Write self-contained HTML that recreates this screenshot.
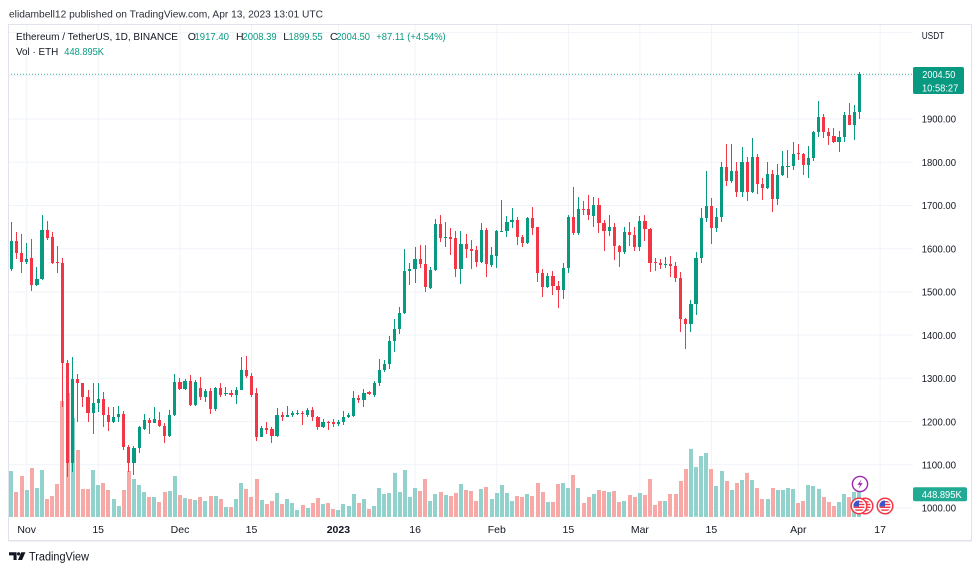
<!DOCTYPE html>
<html><head><meta charset="utf-8"><style>
html,body{margin:0;padding:0;background:#fff;}
body{width:980px;height:571px;position:relative;overflow:hidden;font-family:"Liberation Sans",sans-serif;}
svg{position:absolute;left:0;top:0;}
#k{position:absolute;left:8.815px;top:0;height:571px;display:flex;}
#k i{display:block;flex:none;width:5.11px;height:571px;position:relative;background-repeat:no-repeat;background-position:50% calc(var(--v)*1px);background-size:4.1px calc((517 - var(--v))*1px);}
#k i.g{background-image:linear-gradient(#92d2cc,#92d2cc);}
#k i.r{background-image:linear-gradient(#f7a9a7,#f7a9a7);}
#k i::before{content:"";position:absolute;left:calc(50% - .5px);width:1px;top:calc(var(--h)*1px);height:calc((var(--l) - var(--h))*1px);}
#k i::after{content:"";position:absolute;left:calc(50% - 1.6px);width:3.2px;top:calc(var(--t)*1px);height:max(1px,calc((var(--b) - var(--t))*1px));}
#k i.g::before,#k i.g::after{background:#089981;}
#k i.r::before,#k i.r::after{background:#f23645;}
</style></head><body>
<svg width="980" height="571">
<g stroke="#f0f3fa" stroke-width="1">
<line x1="8" x2="913" y1="508" y2="508"/><line x1="8" x2="913" y1="464.8" y2="464.8"/><line x1="8" x2="913" y1="421.6" y2="421.6"/><line x1="8" x2="913" y1="378.3" y2="378.3"/><line x1="8" x2="913" y1="335.1" y2="335.1"/><line x1="8" x2="913" y1="291.9" y2="291.9"/><line x1="8" x2="913" y1="248.7" y2="248.7"/><line x1="8" x2="913" y1="205.5" y2="205.5"/><line x1="8" x2="913" y1="162.2" y2="162.2"/><line x1="8" x2="913" y1="119" y2="119"/><line x1="8" x2="913" y1="75.8" y2="75.8"/><line x1="8" x2="913" y1="32.6" y2="32.6"/>
<line x1="26.7" x2="26.7" y1="24" y2="517"/><line x1="98.2" x2="98.2" y1="24" y2="517"/><line x1="180" x2="180" y1="24" y2="517"/><line x1="251.5" x2="251.5" y1="24" y2="517"/><line x1="338.4" x2="338.4" y1="24" y2="517"/><line x1="415.1" x2="415.1" y1="24" y2="517"/><line x1="496.8" x2="496.8" y1="24" y2="517"/><line x1="568.4" x2="568.4" y1="24" y2="517"/><line x1="639.9" x2="639.9" y1="24" y2="517"/><line x1="711.4" x2="711.4" y1="24" y2="517"/><line x1="798.3" x2="798.3" y1="24" y2="517"/><line x1="880.1" x2="880.1" y1="24" y2="517"/>
</g>
<line x1="8" x2="913" y1="74.3" y2="74.3" stroke="#089981" stroke-width="1" stroke-dasharray="1,2" opacity="0.8"/>
</svg>
<div id="k">
<i class="g" style="--h:221.7;--t:240.7;--b:269;--l:271;--v:471"></i>
<i class="r" style="--h:232.3;--t:240.7;--b:253.3;--l:259;--v:492"></i>
<i class="r" style="--h:234;--t:252.7;--b:261.7;--l:272.7;--v:476"></i>
<i class="g" style="--h:243.3;--t:258.7;--b:262;--l:264.3;--v:490"></i>
<i class="r" style="--h:239.3;--t:258.3;--b:285;--l:290.7;--v:468"></i>
<i class="g" style="--h:266.7;--t:279;--b:285;--l:286;--v:488"></i>
<i class="g" style="--h:215;--t:230;--b:279.3;--l:280;--v:470"></i>
<i class="r" style="--h:220.7;--t:230;--b:237.7;--l:240;--v:499"></i>
<i class="r" style="--h:232.3;--t:237.3;--b:263.3;--l:264;--v:496"></i>
<i class="r" style="--h:245.7;--t:262;--b:263.3;--l:272.7;--v:484"></i>
<i class="r" style="--h:258.3;--t:262.7;--b:363.3;--l:406.7;--v:401"></i>
<i class="r" style="--h:360;--t:363.3;--b:463.3;--l:476.7;--v:393"></i>
<i class="g" style="--h:356.7;--t:379.3;--b:463.3;--l:471.7;--v:418"></i>
<i class="r" style="--h:374.3;--t:379.3;--b:383.3;--l:421.7;--v:450"></i>
<i class="r" style="--h:382.7;--t:383.3;--b:397.3;--l:406.7;--v:489"></i>
<i class="r" style="--h:390;--t:397.3;--b:412.7;--l:421.7;--v:489"></i>
<i class="g" style="--h:382.7;--t:403.3;--b:412.7;--l:434.3;--v:470"></i>
<i class="g" style="--h:382.7;--t:399.3;--b:403.3;--l:411.7;--v:485"></i>
<i class="r" style="--h:392.3;--t:399.3;--b:415;--l:427.3;--v:483"></i>
<i class="r" style="--h:406.7;--t:415;--b:421.7;--l:430.7;--v:490"></i>
<i class="g" style="--h:406.7;--t:417.3;--b:421.7;--l:423.3;--v:499"></i>
<i class="g" style="--h:406;--t:414;--b:417.3;--l:422.3;--v:506"></i>
<i class="r" style="--h:410.7;--t:414;--b:447.3;--l:450;--v:490"></i>
<i class="r" style="--h:445;--t:447.3;--b:462.7;--l:471.7;--v:471"></i>
<i class="g" style="--h:446;--t:448.3;--b:462.7;--l:475;--v:479"></i>
<i class="g" style="--h:426;--t:427.3;--b:448.3;--l:452.7;--v:485"></i>
<i class="g" style="--h:414;--t:420;--b:429.3;--l:430;--v:492"></i>
<i class="r" style="--h:418.3;--t:420;--b:422.7;--l:434;--v:497"></i>
<i class="g" style="--h:406.7;--t:419.3;--b:422.7;--l:423.3;--v:497"></i>
<i class="r" style="--h:411.7;--t:420;--b:425.7;--l:427.3;--v:502"></i>
<i class="r" style="--h:422.7;--t:425.7;--b:436;--l:442.7;--v:492"></i>
<i class="g" style="--h:410;--t:415;--b:436;--l:436.7;--v:491"></i>
<i class="g" style="--h:374;--t:381.7;--b:415;--l:415.5;--v:476"></i>
<i class="r" style="--h:378.3;--t:381.7;--b:389;--l:390;--v:495"></i>
<i class="g" style="--h:379.3;--t:380.7;--b:389;--l:390;--v:498"></i>
<i class="r" style="--h:375;--t:380.7;--b:405;--l:406;--v:499"></i>
<i class="g" style="--h:380;--t:381.7;--b:405;--l:405.7;--v:500"></i>
<i class="r" style="--h:376.7;--t:387.7;--b:396.7;--l:400;--v:497"></i>
<i class="g" style="--h:389.3;--t:390.7;--b:396.7;--l:401.7;--v:501"></i>
<i class="r" style="--h:388.3;--t:390.7;--b:409;--l:414;--v:496"></i>
<i class="g" style="--h:386.7;--t:387.7;--b:409;--l:410.7;--v:496"></i>
<i class="r" style="--h:382.7;--t:387.7;--b:395;--l:396.7;--v:499"></i>
<i class="g" style="--h:386.7;--t:393.3;--b:394.3;--l:396;--v:507"></i>
<i class="r" style="--h:390;--t:393.3;--b:395;--l:396.7;--v:507"></i>
<i class="g" style="--h:386.7;--t:390;--b:395;--l:404;--v:499"></i>
<i class="g" style="--h:357.3;--t:370;--b:390;--l:390.5;--v:483"></i>
<i class="r" style="--h:356;--t:370;--b:376;--l:378.3;--v:489"></i>
<i class="r" style="--h:373.3;--t:376;--b:395;--l:396.7;--v:497"></i>
<i class="r" style="--h:387.7;--t:393.3;--b:436.7;--l:440.7;--v:479"></i>
<i class="g" style="--h:426;--t:428.3;--b:436.7;--l:437.3;--v:500"></i>
<i class="r" style="--h:421.7;--t:428.3;--b:430;--l:434;--v:504"></i>
<i class="r" style="--h:427.3;--t:429.3;--b:436;--l:443.3;--v:501"></i>
<i class="g" style="--h:408.3;--t:415;--b:436;--l:437;--v:493"></i>
<i class="r" style="--h:411.7;--t:415;--b:416.7;--l:420.7;--v:504"></i>
<i class="g" style="--h:406;--t:415;--b:416.7;--l:417.3;--v:499"></i>
<i class="g" style="--h:410.7;--t:412.7;--b:415;--l:417.3;--v:503"></i>
<i class="g" style="--h:410;--t:412.7;--b:413.3;--l:415;--v:510"></i>
<i class="r" style="--h:410.7;--t:413;--b:414.3;--l:425;--v:505"></i>
<i class="g" style="--h:408.3;--t:410;--b:415;--l:416.7;--v:508"></i>
<i class="r" style="--h:407.3;--t:410;--b:417.3;--l:420.7;--v:503"></i>
<i class="r" style="--h:415.7;--t:416.7;--b:426.7;--l:430;--v:498"></i>
<i class="g" style="--h:419.3;--t:421.7;--b:426.7;--l:428.3;--v:504"></i>
<i class="r" style="--h:420.7;--t:421.7;--b:422.7;--l:430;--v:503"></i>
<i class="r" style="--h:419.3;--t:422.3;--b:424;--l:426.7;--v:509"></i>
<i class="g" style="--h:420;--t:422;--b:424;--l:426;--v:510"></i>
<i class="g" style="--h:410.7;--t:416.7;--b:421.7;--l:425;--v:504"></i>
<i class="g" style="--h:413.3;--t:415;--b:417.3;--l:418.3;--v:506"></i>
<i class="g" style="--h:390.7;--t:398.3;--b:415.7;--l:416.7;--v:494"></i>
<i class="r" style="--h:395;--t:397.7;--b:400;--l:403.3;--v:503"></i>
<i class="g" style="--h:389.3;--t:392.7;--b:400;--l:406.7;--v:499"></i>
<i class="r" style="--h:391;--t:392.3;--b:394.3;--l:395;--v:509"></i>
<i class="g" style="--h:380.7;--t:383.3;--b:395;--l:396.7;--v:506"></i>
<i class="g" style="--h:359.3;--t:370;--b:383.3;--l:386;--v:488"></i>
<i class="g" style="--h:360;--t:364;--b:370;--l:371.7;--v:494"></i>
<i class="g" style="--h:336;--t:340.7;--b:364;--l:369.3;--v:493"></i>
<i class="g" style="--h:319.3;--t:329.3;--b:340.7;--l:351.7;--v:473"></i>
<i class="g" style="--h:307.3;--t:313.3;--b:329.3;--l:334;--v:492"></i>
<i class="g" style="--h:249;--t:271;--b:313.3;--l:314.3;--v:470"></i>
<i class="g" style="--h:263.3;--t:269.3;--b:271;--l:285;--v:497"></i>
<i class="g" style="--h:247.3;--t:259.3;--b:269.3;--l:282.7;--v:488"></i>
<i class="r" style="--h:245;--t:259.3;--b:264;--l:268.3;--v:491"></i>
<i class="r" style="--h:245;--t:264;--b:287.3;--l:291.7;--v:479"></i>
<i class="g" style="--h:266.7;--t:270;--b:287.7;--l:289.3;--v:501"></i>
<i class="g" style="--h:219.3;--t:224;--b:270;--l:271;--v:494"></i>
<i class="r" style="--h:215;--t:224;--b:237.7;--l:241.7;--v:492"></i>
<i class="g" style="--h:221.7;--t:236.7;--b:237.7;--l:247.3;--v:495"></i>
<i class="r" style="--h:228.3;--t:237.3;--b:238.7;--l:255;--v:496"></i>
<i class="r" style="--h:231;--t:238.3;--b:268.7;--l:276.7;--v:493"></i>
<i class="g" style="--h:231;--t:244;--b:268.7;--l:284;--v:484"></i>
<i class="r" style="--h:234.3;--t:244;--b:249.3;--l:258.3;--v:490"></i>
<i class="r" style="--h:240;--t:249;--b:250.7;--l:269.3;--v:491"></i>
<i class="r" style="--h:246;--t:250;--b:261.7;--l:266.7;--v:501"></i>
<i class="g" style="--h:222.7;--t:230;--b:261.7;--l:263.3;--v:489"></i>
<i class="r" style="--h:228.3;--t:230;--b:264.3;--l:276.7;--v:487"></i>
<i class="g" style="--h:247.3;--t:255;--b:265;--l:266.7;--v:499"></i>
<i class="g" style="--h:230;--t:231;--b:256;--l:268.3;--v:493"></i>
<i class="g" style="--h:200;--t:230.7;--b:231.7;--l:232;--v:485"></i>
<i class="g" style="--h:216;--t:221.7;--b:231;--l:237.3;--v:493"></i>
<i class="g" style="--h:208.3;--t:220;--b:221.7;--l:228.3;--v:501"></i>
<i class="r" style="--h:216.7;--t:220;--b:236.7;--l:245;--v:496"></i>
<i class="r" style="--h:235;--t:236.7;--b:243.3;--l:246.7;--v:497"></i>
<i class="g" style="--h:216.7;--t:218.3;--b:243.3;--l:244;--v:494"></i>
<i class="r" style="--h:206.7;--t:218.3;--b:227.7;--l:235;--v:496"></i>
<i class="r" style="--h:226.7;--t:227.3;--b:273.3;--l:281.7;--v:483"></i>
<i class="r" style="--h:269;--t:273.3;--b:286.7;--l:296.7;--v:492"></i>
<i class="g" style="--h:273.3;--t:276;--b:286.7;--l:288.3;--v:502"></i>
<i class="r" style="--h:271;--t:276;--b:286;--l:295;--v:502"></i>
<i class="r" style="--h:281;--t:286;--b:290;--l:308.3;--v:484"></i>
<i class="g" style="--h:262.7;--t:268.3;--b:290;--l:299.3;--v:483"></i>
<i class="g" style="--h:215;--t:217.3;--b:268.3;--l:273.3;--v:488"></i>
<i class="r" style="--h:187.3;--t:217.3;--b:232.7;--l:235;--v:475"></i>
<i class="g" style="--h:196.7;--t:209.3;--b:232.7;--l:235;--v:488"></i>
<i class="r" style="--h:200.7;--t:208.7;--b:210;--l:215;--v:503"></i>
<i class="r" style="--h:195;--t:209.3;--b:215;--l:220;--v:497"></i>
<i class="g" style="--h:196.7;--t:205;--b:215.7;--l:226.7;--v:494"></i>
<i class="r" style="--h:198.3;--t:205;--b:223.3;--l:232.7;--v:490"></i>
<i class="r" style="--h:220;--t:223.3;--b:230.7;--l:250.7;--v:490.7"></i>
<i class="g" style="--h:215;--t:227.3;--b:230.7;--l:236;--v:491.7"></i>
<i class="r" style="--h:222.7;--t:227.3;--b:245.7;--l:260;--v:491"></i>
<i class="r" style="--h:245;--t:245.7;--b:252.3;--l:267.3;--v:502"></i>
<i class="g" style="--h:227.3;--t:231.7;--b:252.3;--l:254;--v:501"></i>
<i class="r" style="--h:221.7;--t:231.7;--b:235;--l:245.7;--v:495"></i>
<i class="r" style="--h:226.7;--t:235;--b:247.3;--l:250.7;--v:496.7"></i>
<i class="g" style="--h:216;--t:221;--b:247.3;--l:250.7;--v:493"></i>
<i class="r" style="--h:215;--t:221;--b:229;--l:240.7;--v:495"></i>
<i class="r" style="--h:228.3;--t:229;--b:262.7;--l:272.3;--v:479.3"></i>
<i class="r" style="--h:258.3;--t:262.3;--b:263.3;--l:270.7;--v:505"></i>
<i class="r" style="--h:259;--t:263;--b:264.7;--l:269.3;--v:501"></i>
<i class="g" style="--h:256.7;--t:264;--b:264.7;--l:268.3;--v:501"></i>
<i class="r" style="--h:256;--t:264;--b:265.7;--l:276.7;--v:494.3"></i>
<i class="r" style="--h:261.7;--t:265.7;--b:278.3;--l:282.3;--v:493.7"></i>
<i class="r" style="--h:271.7;--t:278.3;--b:319.3;--l:331.7;--v:481"></i>
<i class="r" style="--h:318.3;--t:319.3;--b:324.3;--l:349.3;--v:469.3"></i>
<i class="g" style="--h:300;--t:304.3;--b:324.3;--l:331.7;--v:449"></i>
<i class="g" style="--h:251.7;--t:258.3;--b:304.3;--l:315;--v:467.3"></i>
<i class="g" style="--h:208.3;--t:217.7;--b:258.3;--l:263.3;--v:455.7"></i>
<i class="g" style="--h:171;--t:206;--b:217.7;--l:221.7;--v:453"></i>
<i class="r" style="--h:198.3;--t:206;--b:228.3;--l:244;--v:468.7"></i>
<i class="g" style="--h:208.3;--t:217.3;--b:228.3;--l:231.7;--v:485.7"></i>
<i class="g" style="--h:161.7;--t:167.3;--b:217.3;--l:221.7;--v:471.3"></i>
<i class="r" style="--h:144.3;--t:167.3;--b:181;--l:186;--v:480.7"></i>
<i class="g" style="--h:144.3;--t:171;--b:181;--l:182.7;--v:490"></i>
<i class="r" style="--h:161.7;--t:171;--b:191.7;--l:196.7;--v:483"></i>
<i class="g" style="--h:147.3;--t:162.3;--b:191.7;--l:197.3;--v:479.7"></i>
<i class="r" style="--h:156.7;--t:162.3;--b:191.7;--l:200.7;--v:473"></i>
<i class="g" style="--h:137.7;--t:157.3;--b:191.7;--l:192.7;--v:480"></i>
<i class="r" style="--h:154.3;--t:157.3;--b:184.3;--l:194;--v:488.3"></i>
<i class="r" style="--h:178.3;--t:184.3;--b:187.7;--l:200;--v:499"></i>
<i class="g" style="--h:162.3;--t:174.3;--b:187.7;--l:189.3;--v:499"></i>
<i class="r" style="--h:170;--t:174.3;--b:199.3;--l:211.7;--v:488.3"></i>
<i class="g" style="--h:164.3;--t:175;--b:199.3;--l:205;--v:490"></i>
<i class="g" style="--h:150.7;--t:166;--b:175;--l:176;--v:490"></i>
<i class="g" style="--h:150;--t:165.7;--b:166.7;--l:178.3;--v:487.7"></i>
<i class="g" style="--h:141.7;--t:154;--b:166;--l:170;--v:489"></i>
<i class="r" style="--h:144;--t:152.7;--b:154;--l:160;--v:502.7"></i>
<i class="r" style="--h:152.7;--t:154;--b:165.3;--l:175;--v:500.7"></i>
<i class="g" style="--h:145.7;--t:158.3;--b:165.3;--l:178.3;--v:485"></i>
<i class="g" style="--h:131;--t:132.3;--b:158.3;--l:161;--v:486"></i>
<i class="g" style="--h:101;--t:116.7;--b:132.3;--l:137.3;--v:489"></i>
<i class="r" style="--h:114.3;--t:116.7;--b:131.7;--l:138.3;--v:496.7"></i>
<i class="r" style="--h:128.3;--t:131.7;--b:135.7;--l:145;--v:502"></i>
<i class="r" style="--h:128.3;--t:135.7;--b:142.3;--l:143.3;--v:506"></i>
<i class="g" style="--h:131;--t:137.3;--b:142.3;--l:151.7;--v:502"></i>
<i class="g" style="--h:111.7;--t:115;--b:137.3;--l:142.3;--v:494.3"></i>
<i class="r" style="--h:102.7;--t:115;--b:125;--l:125.5;--v:496.7"></i>
<i class="g" style="--h:105;--t:112.3;--b:125;--l:140;--v:491.7"></i>
<i class="g" style="--h:72.3;--t:74.3;--b:112.3;--l:119.3;--v:492"></i>
</div>
<svg width="980" height="571" font-family="Liberation Sans, sans-serif">
<defs>
<clipPath id="c1"><circle cx="859" cy="506" r="5.6"/></clipPath>
<clipPath id="c2"><circle cx="865" cy="506" r="5.6"/></clipPath>
<clipPath id="c3"><circle cx="885" cy="506" r="5.6"/></clipPath>
</defs>
<rect x="8.5" y="24.5" width="963" height="516" fill="none" stroke="#e0e3eb" stroke-width="1"/>
<line x1="8" x2="972" y1="541.5" y2="541.5" stroke="#f0f1f4" stroke-width="1"/>
<text x="9" y="17.3" font-size="10.5" fill="#2a2e39" textLength="314" lengthAdjust="spacingAndGlyphs">elidambell12 published on TradingView.com, Apr 13, 2023 13:01 UTC</text>
<g font-size="10.5">
<text x="16" y="40" fill="#131722" textLength="162" lengthAdjust="spacingAndGlyphs">Ethereum / TetherUS, 1D, BINANCE</text>
<text x="187.7" y="40" fill="#131722">O</text>
<text x="194.5" y="40" fill="#089981" textLength="34.5" lengthAdjust="spacingAndGlyphs">1917.40</text>
<text x="236" y="40" fill="#131722">H</text>
<text x="242.5" y="40" fill="#089981" textLength="34.2" lengthAdjust="spacingAndGlyphs">2008.39</text>
<text x="283.3" y="40" fill="#131722">L</text>
<text x="288.5" y="40" fill="#089981" textLength="34.2" lengthAdjust="spacingAndGlyphs">1899.55</text>
<text x="330" y="40" fill="#131722">C</text>
<text x="336.2" y="40" fill="#089981" textLength="33.8" lengthAdjust="spacingAndGlyphs">2004.50</text>
<text x="376.3" y="40" fill="#089981" textLength="69.4" lengthAdjust="spacingAndGlyphs">+87.11 (+4.54%)</text>
<text x="16" y="55" fill="#131722" textLength="42.3" lengthAdjust="spacingAndGlyphs">Vol · ETH</text>
<text x="64.3" y="55" fill="#089981" textLength="39.7" lengthAdjust="spacingAndGlyphs">448.895K</text>
</g>
<g font-size="10" fill="#131722">
<text x="921.7" y="38.8" textLength="22.6" lengthAdjust="spacingAndGlyphs">USDT</text>
<text x="921.7" y="122.7" textLength="34.3" lengthAdjust="spacingAndGlyphs">1900.00</text>
<text x="921.7" y="165.9" textLength="34.3" lengthAdjust="spacingAndGlyphs">1800.00</text>
<text x="921.7" y="209.2" textLength="34.3" lengthAdjust="spacingAndGlyphs">1700.00</text>
<text x="921.7" y="252.4" textLength="34.3" lengthAdjust="spacingAndGlyphs">1600.00</text>
<text x="921.7" y="295.6" textLength="34.3" lengthAdjust="spacingAndGlyphs">1500.00</text>
<text x="921.7" y="338.8" textLength="34.3" lengthAdjust="spacingAndGlyphs">1400.00</text>
<text x="921.7" y="382" textLength="34.3" lengthAdjust="spacingAndGlyphs">1300.00</text>
<text x="921.7" y="425.3" textLength="34.3" lengthAdjust="spacingAndGlyphs">1200.00</text>
<text x="921.7" y="468.5" textLength="34.3" lengthAdjust="spacingAndGlyphs">1100.00</text>
<text x="921.7" y="511.7" textLength="34.3" lengthAdjust="spacingAndGlyphs">1000.00</text>
</g>
<rect x="913" y="67" width="51" height="27" rx="2" fill="#089981"/>
<text x="922.3" y="77.8" font-size="10" fill="#fff" textLength="33" lengthAdjust="spacingAndGlyphs">2004.50</text>
<text x="922" y="91.6" font-size="10" fill="#fff" textLength="36.3" lengthAdjust="spacingAndGlyphs">10:58:27</text>
<rect x="913" y="487.3" width="54" height="14" rx="2" fill="#22ab94"/>
<text x="921.7" y="498" font-size="10" fill="#fff" textLength="40" lengthAdjust="spacingAndGlyphs">448.895K</text>
<g font-size="10.5" fill="#131722" text-anchor="middle">
<text x="26.7" y="533">Nov</text>
<text x="98.2" y="533">15</text>
<text x="180" y="533">Dec</text>
<text x="251.5" y="533">15</text>
<text x="338.4" y="533" font-weight="bold">2023</text>
<text x="415.1" y="533">16</text>
<text x="496.8" y="533">Feb</text>
<text x="568.4" y="533">15</text>
<text x="639.9" y="533">Mar</text>
<text x="711.4" y="533">15</text>
<text x="798.3" y="533">Apr</text>
<text x="880.1" y="533">17</text>
</g>
<!-- event icons -->
<circle cx="860" cy="484" r="7.6" fill="#fff" stroke="#9c27b0" stroke-width="1.4"/>
<path d="M861.6 479.3 L857.4 484.9 L860.1 484.9 L858.6 488.7 L862.7 483.1 L860 483.1 Z" fill="#9c27b0"/>
<g>
<circle cx="865" cy="506" r="7.8" fill="#fff" stroke="#f23645" stroke-width="1.5"/>
<g clip-path="url(#c2)"><rect x="859" y="500" width="12" height="12" fill="#fff"/><rect x="859" y="501" width="12" height="1.4" fill="#f23645"/><rect x="859" y="503.8" width="12" height="1.4" fill="#f23645"/><rect x="859" y="506.6" width="12" height="1.4" fill="#f23645"/><rect x="859" y="509.4" width="12" height="1.4" fill="#f23645"/><rect x="859" y="500" width="6" height="6.5" fill="#3a55c8"/></g>
<circle cx="859" cy="506" r="7.8" fill="#fff" stroke="#f23645" stroke-width="1.5"/>
<g clip-path="url(#c1)"><rect x="853" y="500" width="12" height="12" fill="#fff"/><rect x="853" y="501" width="12" height="1.4" fill="#f23645"/><rect x="853" y="503.8" width="12" height="1.4" fill="#f23645"/><rect x="853" y="506.6" width="12" height="1.4" fill="#f23645"/><rect x="853" y="509.4" width="12" height="1.4" fill="#f23645"/><rect x="853" y="500" width="6" height="6.5" fill="#3a55c8"/></g>
<circle cx="885" cy="506" r="7.8" fill="#fff" stroke="#f23645" stroke-width="1.5"/>
<g clip-path="url(#c3)"><rect x="879" y="500" width="12" height="12" fill="#fff"/><rect x="879" y="501" width="12" height="1.4" fill="#f23645"/><rect x="879" y="503.8" width="12" height="1.4" fill="#f23645"/><rect x="879" y="506.6" width="12" height="1.4" fill="#f23645"/><rect x="879" y="509.4" width="12" height="1.4" fill="#f23645"/><rect x="879" y="500" width="6" height="6.5" fill="#3a55c8"/></g>
</g>
<!-- logo -->
<path d="M9 552.3h7.6v7.7h-3.1v-4.6H9z" fill="#131722"/>
<circle cx="18.6" cy="553.9" r="1.6" fill="#131722"/>
<path d="M21.2 552.3h4.2l-3.3 7.7h-4.1z" fill="#131722"/>
<text x="29" y="560.5" font-size="11.5" fill="#131722" textLength="60" lengthAdjust="spacingAndGlyphs">TradingView</text>
</svg>
</body></html>
